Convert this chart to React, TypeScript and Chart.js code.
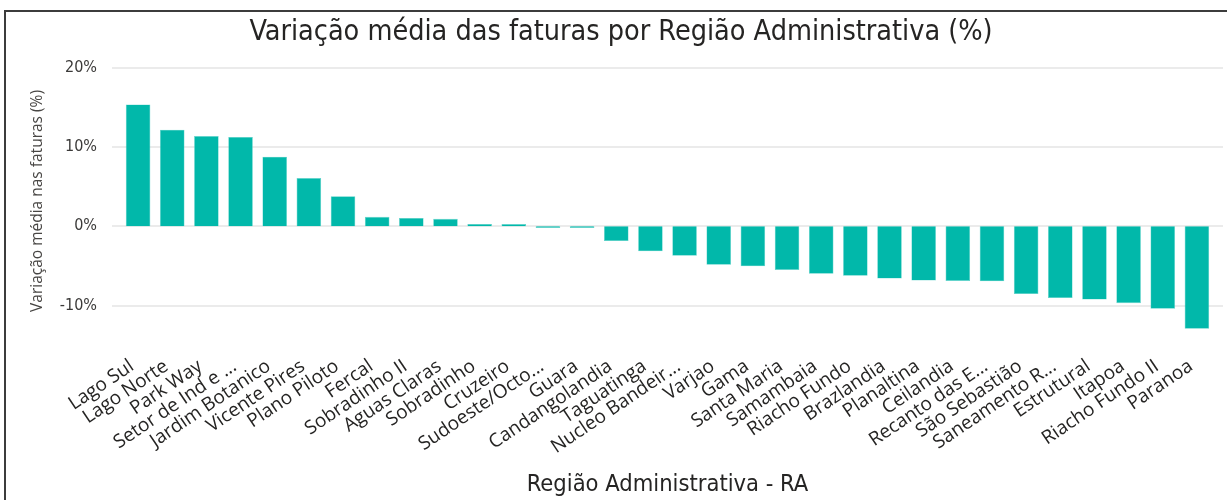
import React, { useEffect, useRef } from "react";
import { Chart, registerables } from "chart.js";

Chart.register(...registerables);

const categories = [
  "Lago Sul", "Lago Norte", "Park Way", "Setor de Ind e ...", "Jardim Botanico",
  "Vicente Pires", "Plano Piloto", "Fercal", "Sobradinho II", "Aguas Claras",
  "Sobradinho", "Cruzeiro", "Sudoeste/Octo...", "Guara", "Candangolandia",
  "Taguatinga", "Nucleo Bandeir...", "Varjao", "Gama", "Santa Maria",
  "Samambaia", "Riacho Fundo", "Brazlandia", "Planaltina", "Ceilandia",
  "Recanto das E...", "São Sebastião", "Saneamento R...", "Estrutural", "Itapoa",
  "Riacho Fundo II", "Paranoa",
];

const variation = [
  15.4, 12.2, 11.4, 11.3, 8.8,
  6.1, 3.8, 1.2, 1.05, 0.95,
  0.3, 0.28, -0.2, -0.2, -1.85,
  -3.15, -3.7, -4.85, -5.05, -5.5,
  -6.0, -6.25, -6.6, -6.85, -6.9,
  -6.95, -8.55, -9.05, -9.25, -9.7,
  -10.4, -12.95,
];

const yTicks = [-10, 0, 10, 20];

const chartTitle = "Variação média das faturas por Região Administrativa (%)";
const xTitle = "Região Administrativa - RA";
const yTitle = "Variação média nas faturas (%)";

const DIN = "'DejaVu Sans Condensed', 'DejaVu Sans', sans-serif";
const SEGOE = "'Open Sans', 'Noto Sans', sans-serif";

const gridPlugin = {
  id: "customGrid",
  beforeDatasetsDraw(chart: any) {
    const y = chart.scales.y;
    const ctx = chart.ctx;
    ctx.save();
    ctx.strokeStyle = "#EBEBEB";
    ctx.lineWidth = 2;
    for (const v of yTicks) {
      const py = Math.round(y.getPixelForValue(v));
      ctx.beginPath();
      ctx.moveTo(112, py);
      ctx.lineTo(chart.width - 4, py);
      ctx.stroke();
    }
    ctx.restore();
  },
};

const titlePlugin = {
  id: "customTitle",
  afterDraw(chart: any) {
    const ctx = chart.ctx;
    ctx.save();
    ctx.fillStyle = "#252423";
    ctx.font = "28.5px " + DIN;
    ctx.textAlign = "center";
    ctx.textBaseline = "alphabetic";
    ctx.fillText(chartTitle, 621, 40);
    ctx.restore();
  },
};

export default function App() {
  const ref = useRef<HTMLCanvasElement | null>(null);

  useEffect(() => {
    if (!ref.current) return;
    const chart = new Chart(ref.current, {
      type: "bar",
      data: {
        labels: categories,
        datasets: [
          {
            data: variation,
            backgroundColor: "#01B8AA",
            borderColor: "#5FD3CA",
            borderWidth: 0.6,
            barPercentage: 0.72,
            categoryPercentage: 1,
          },
        ],
      },
      plugins: [gridPlugin, titlePlugin],
      options: {
        responsive: false,
        animation: false,
        layout: { padding: { left: 0, right: 13, top: 68, bottom: 0 } },
        plugins: {
          legend: { display: false },
          tooltip: { enabled: false },
          title: { display: false },
        },
        scales: {
          x: {
            grid: { display: false, drawTicks: false },
            border: { display: false },
            ticks: {
              autoSkip: false,
              maxRotation: 34,
              minRotation: 34,
              padding: 21,
              labelOffset: -6,
              color: "#252423",
              font: { family: SEGOE, size: 19 },
            },
            title: {
              display: true,
              text: xTitle,
              color: "#252423",
              font: { family: DIN, size: 23.5 },
              padding: { top: 0, bottom: 1 },
            },
            afterFit: (s: any) => {
              s.height = 166;
              s.paddingLeft = 0;
              s.paddingRight = 0;
            },
          },
          y: {
            min: -13.6,
            max: 20,
            grid: { display: false, drawTicks: false },
            border: { display: false },
            afterBuildTicks: (axis: any) => {
              axis.ticks = yTicks.map((v) => ({ value: v }));
            },
            ticks: {
              padding: 24,
              color: "#3B3A39",
              font: { family: DIN, size: 16 },
              callback: (v: any) => v + "%",
            },
            title: {
              display: true,
              text: yTitle,
              color: "#484644",
              font: { family: SEGOE, size: 15.5 },
              padding: { top: 28, bottom: 0 },
            },
            afterFit: (s: any) => {
              s.width = 121;
            },
          },
        },
      },
    });
    return () => chart.destroy();
  }, []);

  return (
    <div style={{ position: "absolute", left: 0, top: 0, width: 1227, height: 500, overflow: "hidden", background: "#fff" }}>
      <div
        style={{
          position: "absolute",
          left: 4,
          top: 10,
          width: 1300,
          height: 600,
          borderTop: "2px solid #3c3c3c",
          borderLeft: "2px solid #3c3c3c",
        }}
      />
      <canvas ref={ref} width={1227} height={500} style={{ position: "absolute", left: 0, top: 0 }} />
    </div>
  );
}
